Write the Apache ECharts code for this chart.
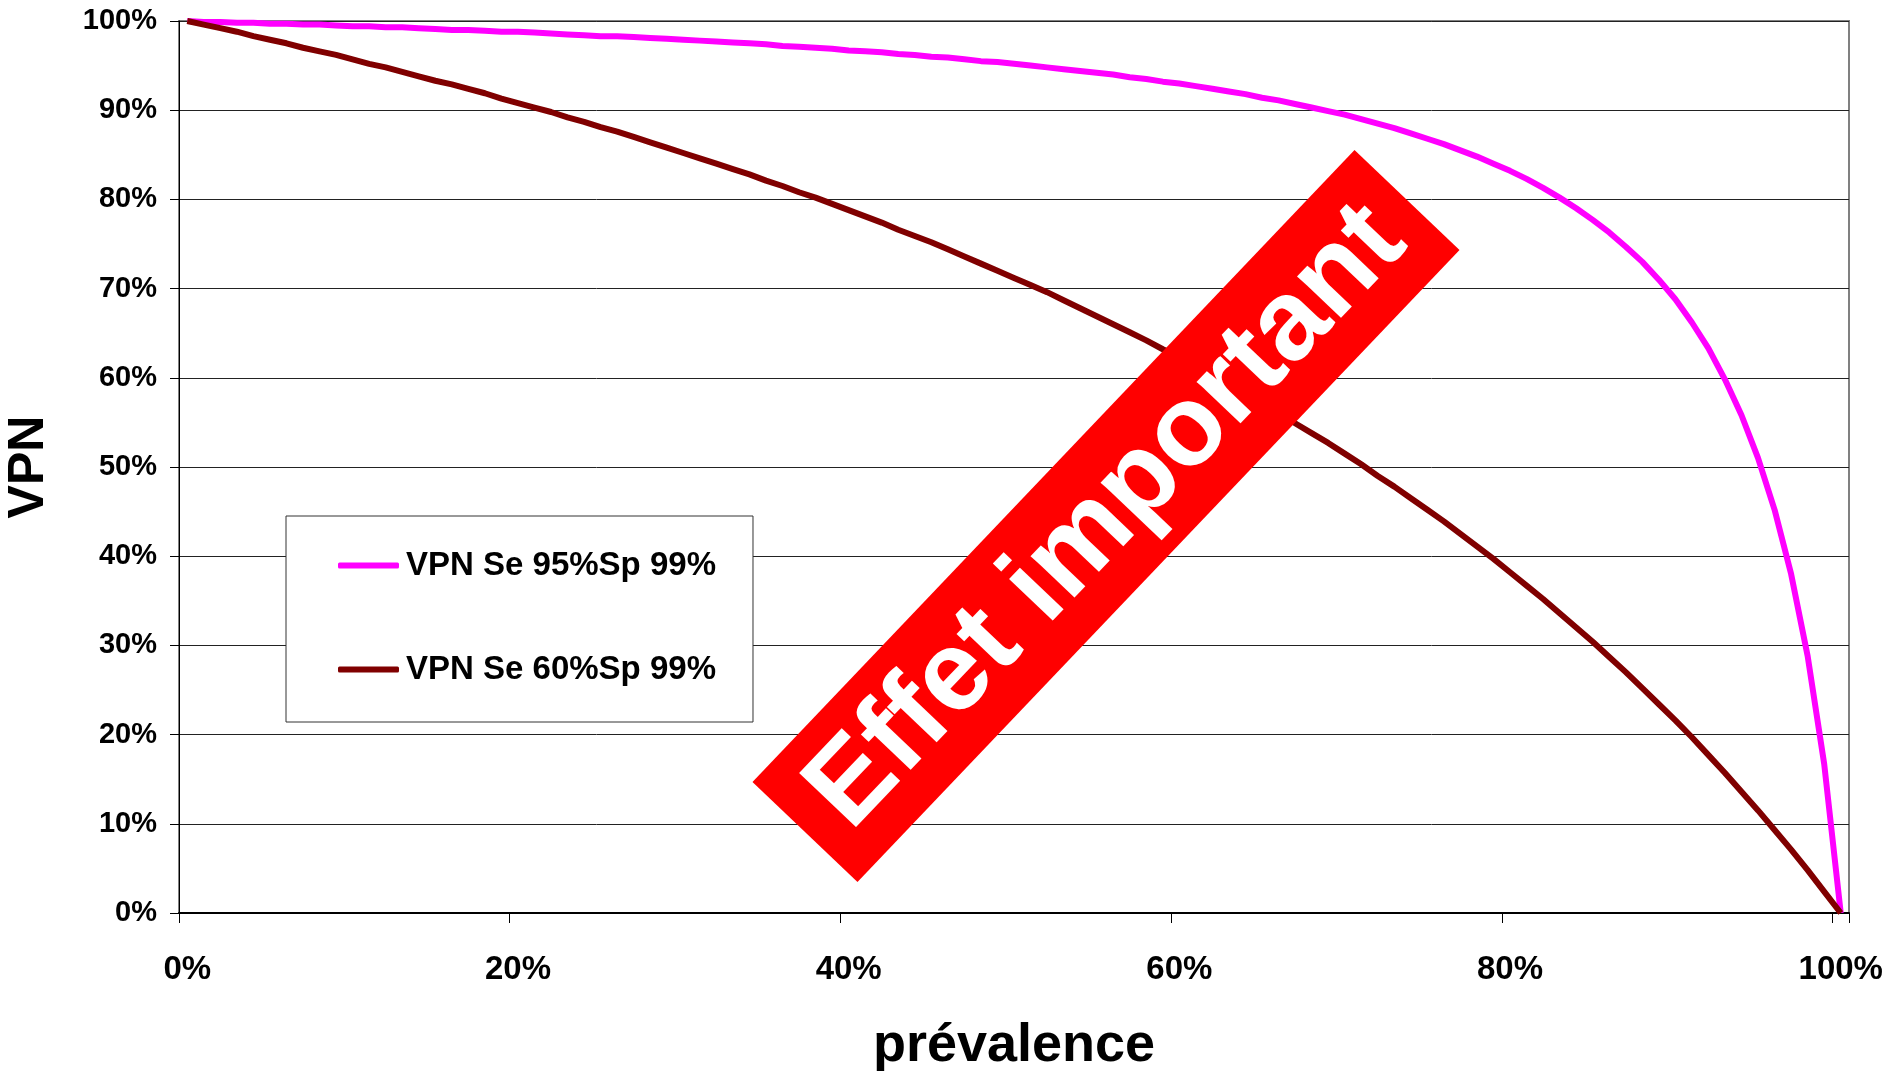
<!DOCTYPE html>
<html>
<head>
<meta charset="utf-8">
<title>VPN selon la prévalence</title>
<script src="https://cdn.jsdelivr.net/npm/echarts@6/dist/echarts.min.js"></script>
<style>
  html, body { margin: 0; padding: 0; background: #fff; }
  #chart { width: 1888px; height: 1071px; }
</style>
</head>
<body>
<div id="chart"></div>
<script>
// Prévalence de 0 % à 100 %, par pas de 1 %
const prevalence = Array.from({ length: 101 }, (_, i) => i);

// VPN (en %) pour Se 95 % / Sp 99 %
const vpnSe95 = [
  100.0, 99.9, 99.9, 99.8, 99.8, 99.7, 99.7, 99.6, 99.6, 99.5,
  99.4, 99.4, 99.3, 99.3, 99.2, 99.1, 99.0, 99.0, 98.9, 98.8,
  98.8, 98.7, 98.6, 98.5, 98.4, 98.3, 98.3, 98.2, 98.1, 98.0,
  97.9, 97.8, 97.7, 97.6, 97.5, 97.4, 97.2, 97.1, 97.0, 96.9,
  96.7, 96.6, 96.5, 96.3, 96.2, 96.0, 95.9, 95.7, 95.5, 95.4,
  95.2, 95.0, 94.8, 94.6, 94.4, 94.2, 94.0, 93.7, 93.5, 93.2,
  93.0, 92.7, 92.4, 92.1, 91.8, 91.4, 91.1, 90.7, 90.3, 89.9,
  89.5, 89.0, 88.5, 88.0, 87.4, 86.8, 86.2, 85.5, 84.8, 84.0,
  83.2, 82.3, 81.3, 80.2, 79.0, 77.7, 76.3, 74.7, 73.0, 71.0,
  68.8, 66.2, 63.3, 59.8, 55.8, 51.0, 45.2, 38.0, 28.8, 16.7,
  0.0
];

// VPN (en %) pour Se 60 % / Sp 99 %
const vpnSe60 = [
  100.0, 99.6, 99.2, 98.8, 98.3, 97.9, 97.5, 97.0, 96.6, 96.2,
  95.7, 95.2, 94.8, 94.3, 93.8, 93.3, 92.9, 92.4, 91.9, 91.3,
  90.8, 90.3, 89.8, 89.2, 88.7, 88.1, 87.6, 87.0, 86.4, 85.8,
  85.2, 84.6, 84.0, 83.4, 82.8, 82.1, 81.5, 80.8, 80.2, 79.5,
  78.8, 78.1, 77.4, 76.6, 75.9, 75.2, 74.4, 73.6, 72.8, 72.0,
  71.2, 70.4, 69.6, 68.7, 67.8, 66.9, 66.0, 65.1, 64.2, 63.2,
  62.3, 61.3, 60.3, 59.2, 58.2, 57.1, 56.0, 54.9, 53.8, 52.7,
  51.5, 50.3, 49.0, 47.8, 46.5, 45.2, 43.9, 42.5, 41.1, 39.7,
  38.2, 36.7, 35.2, 33.6, 32.0, 30.4, 28.7, 27.0, 25.2, 23.4,
  21.6, 19.7, 17.7, 15.7, 13.6, 11.5, 9.3, 7.1, 4.8, 2.4,
  0.0
];

const seriesNames = ['VPN Se 95%Sp 99%', 'VPN Se 60%Sp 99%'];
const seriesColors = ['#FF00FF', '#800000'];
const bannerText = 'Effet important';

const FONT = "'Liberation Sans', Arial, Helvetica, sans-serif";

const chart = echarts.init(document.getElementById('chart'), null, { renderer: 'canvas' });

chart.setOption({
  backgroundColor: '#ffffff',
  animation: false,
  textStyle: { fontFamily: FONT, fontWeight: 'bold', color: '#000' },
  grid: {
    left: 179, top: 21, right: 39, bottom: 158,
    outerBoundsMode: 'none',
    containLabel: false,
    show: true, borderColor: '#808080', borderWidth: 2, backgroundColor: 'transparent'
  },
  legend: {
    orient: 'vertical',
    left: 286, top: 516,
    padding: [33, 37, 36, 52],
    itemGap: 71,
    itemWidth: 61, itemHeight: 6,
    icon: 'roundRect',
    backgroundColor: '#ffffff',
    borderColor: '#333', borderWidth: 1, borderRadius: 0,
    textStyle: { fontFamily: FONT, fontWeight: 'bold', fontSize: 33, color: '#000', padding: [5, 0, 0, 2] },
    data: seriesNames
  },
  xAxis: {
    type: 'category',
    data: prevalence,
    boundaryGap: true,
    name: 'prévalence',
    nameLocation: 'middle',
    nameGap: 106,
    nameTextStyle: { fontFamily: FONT, fontWeight: 'bold', fontSize: 54, color: '#000' },
    axisLine: { show: true, lineStyle: { color: '#000', width: 2 } },
    axisTick: { show: true, interval: 19, length: 10, inside: false, lineStyle: { color: '#000', width: 1 } },
    axisLabel: {
      interval: 19, margin: 40,
      fontFamily: FONT, fontWeight: 'bold', fontSize: 33, color: '#000',
      formatter: v => v + '%'
    },
    splitLine: { show: false }
  },
  yAxis: {
    type: 'value',
    min: 0, max: 100, interval: 10,
    name: 'VPN',
    nameLocation: 'middle',
    nameRotate: 90,
    nameGap: 125,
    nameTextStyle: { fontFamily: FONT, fontWeight: 'bold', fontSize: 50, color: '#000' },
    axisLine: { show: true, lineStyle: { color: '#000', width: 1 } },
    axisTick: { show: true, length: 9, inside: false, lineStyle: { color: '#000', width: 1 } },
    axisLabel: {
      margin: 22,
      fontFamily: FONT, fontWeight: 'bold', fontSize: 29, color: '#000',
      formatter: '{value}%'
    },
    splitLine: { show: true, lineStyle: { color: '#222', width: 1 } }
  },
  series: [
    {
      name: seriesNames[0], type: 'line', data: vpnSe95,
      symbol: 'none', smooth: false,
      color: seriesColors[0],
      lineStyle: { color: seriesColors[0], width: 6 }
    },
    {
      name: seriesNames[1], type: 'line', data: vpnSe60,
      symbol: 'none', smooth: false,
      color: seriesColors[1],
      lineStyle: { color: seriesColors[1], width: 6 }
    }
  ],
  graphic: [
    {
      // Bandeau rouge incliné
      type: 'group',
      x: 1106, y: 516,
      rotation: 46.4 * Math.PI / 180,
      z: 100,
      children: [
        {
          type: 'rect',
          shape: { x: -436.5, y: -72.5, width: 873, height: 145 },
          style: { fill: '#FF0000' },
          z: 100
        },
        {
          type: 'text',
          x: 0, y: 2,
          style: {
            text: bannerText,
            fill: '#ffffff',
            font: "bold 114px 'Liberation Sans', Arial, sans-serif",
            align: 'center',
            verticalAlign: 'middle'
          },
          z: 101
        }
      ]
    }
  ]
});
</script>
</body>
</html>
